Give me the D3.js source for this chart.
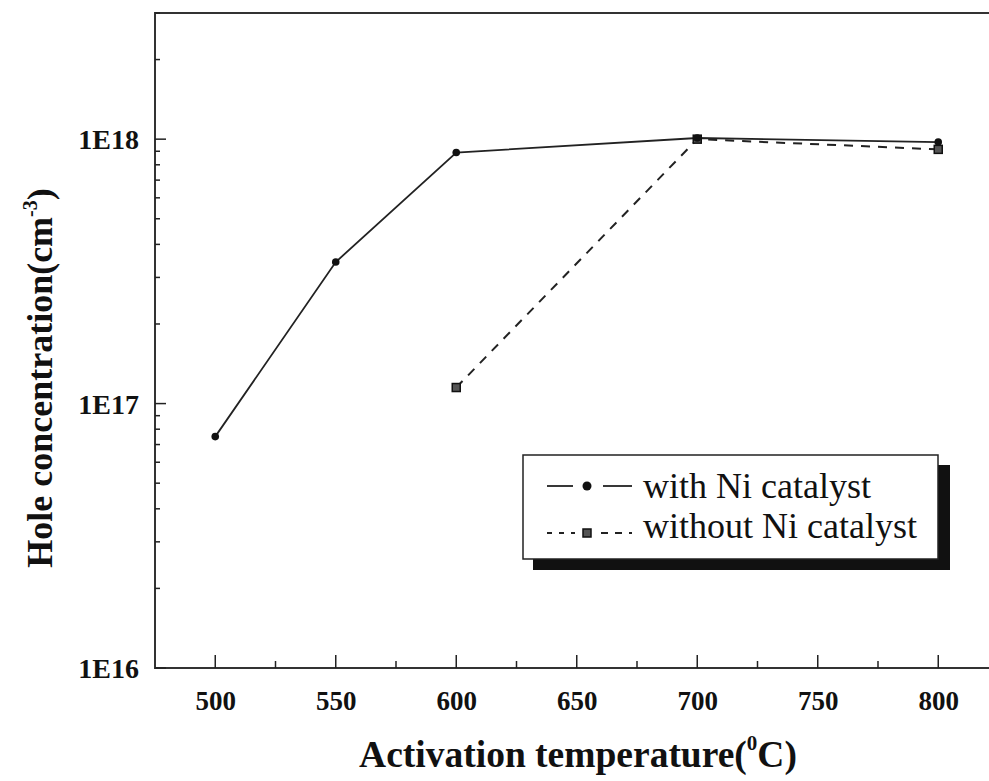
<!DOCTYPE html>
<html><head><meta charset="utf-8">
<script src="https://cdn.jsdelivr.net/npm/d3@7"></script>
<style>body{margin:0;background:#fff;} svg{display:block;}</style>
</head><body>
<svg id="c" width="989" height="781"></svg>
<script>
const temps = [500, 550, 600, 700, 800];
const withNi = [7.5e16, 3.43e17, 8.9e17, 1.01e18, 9.75e17];
const tempsNoNi = [600, 700, 800];
const withoutNi = [1.15e17, 1.0e18, 9.15e17];
const xTicks = [500, 550, 600, 650, 700, 750, 800];
const yTicks = [1e16, 1e17, 1e18];
const yTickLabels = ["1E16", "1E17", "1E18"];
const seriesNames = ["with Ni catalyst", "without Ni catalyst"];

const svg = d3.select("#c");
const font = "'Liberation Serif', 'Times New Roman', serif";
const L = 155, T = 13, B = 668, R = 998.5;
const x = d3.scaleLinear().domain([475, 825]).range([L, R]);
const y = d3.scaleLog().domain([1e16, 3e18]).range([B, T]);

// frame
svg.append("line").attr("x1", L).attr("x2", 1000).attr("y1", T).attr("y2", T).attr("stroke", "#333").attr("stroke-width", 2);

// x axis
const xAxis = d3.axisBottom(x).tickValues(xTicks).tickSize(0).tickPadding(0).tickFormat(d3.format("d"));
const gx = svg.append("g").attr("transform", `translate(0,${B})`).call(xAxis);
gx.select(".domain").remove();
gx.selectAll("text").attr("dy", "1.2em").attr("y", 10).style("font-family", font).style("font-weight", "bold").style("font-size", "27px").attr("fill", "#111");
svg.append("line").attr("x1", L).attr("x2", 1000).attr("y1", B).attr("y2", B).attr("stroke", "#333").attr("stroke-width", 2);
xTicks.forEach(v => svg.append("line").attr("x1", x(v)).attr("x2", x(v)).attr("y1", B).attr("y2", B - 13).attr("stroke", "#222").attr("stroke-width", 1.5));
const xMinor = [475, 525, 575, 625, 675, 725, 775];
xMinor.forEach(v => { if (x(v) > L + 1) svg.append("line").attr("x1", x(v)).attr("x2", x(v)).attr("y1", B).attr("y2", B - 7).attr("stroke", "#222").attr("stroke-width", 1.5); });

// y axis
const yAxis = d3.axisLeft(y).tickValues(yTicks).tickSize(0).tickPadding(0).tickFormat((d, i) => yTickLabels[i]);
const gy = svg.append("g").attr("transform", `translate(${L},0)`).call(yAxis);
gy.select(".domain").remove();
gy.selectAll("text").attr("x", -16).attr("dy", "0.35em").style("font-family", font).style("font-weight", "bold").style("font-size", "28px").attr("fill", "#111");
svg.append("line").attr("x1", L).attr("x2", L).attr("y1", T - 1).attr("y2", B + 1).attr("stroke", "#333").attr("stroke-width", 2);
yTicks.forEach(v => svg.append("line").attr("x1", L).attr("x2", L + 11).attr("y1", y(v)).attr("y2", y(v)).attr("stroke", "#222").attr("stroke-width", 1.5));
const yMinor = [];
[1e16, 1e17, 1e18].forEach(dec => { for (let k = 2; k <= 9; k++) { const v = dec * k; if (v <= 3e18) yMinor.push(v); } });
yMinor.forEach(v => svg.append("line").attr("x1", L).attr("x2", L + 5).attr("y1", y(v)).attr("y2", y(v)).attr("stroke", "#222").attr("stroke-width", 1.5));

// axis titles
const xt = svg.append("text").attr("x", 578).attr("y", 767).attr("text-anchor", "middle")
  .style("font-family", font).style("font-weight", "bold").style("font-size", "37.5px").attr("fill", "#111");
xt.append("tspan").text("Activation temperature(");
xt.append("tspan").text("0").attr("dy", -17).style("font-size", "21px");
xt.append("tspan").text("C)").attr("dy", 17);

const yt = svg.append("text").attr("transform", "translate(52,378) rotate(-90)").attr("text-anchor", "middle")
  .style("font-family", font).style("font-weight", "bold").style("font-size", "36px").attr("fill", "#111");
yt.append("tspan").text("Hole concentration(cm");
yt.append("tspan").text("-3").attr("dy", -15).style("font-size", "20px");
yt.append("tspan").text(")").attr("dy", 15);

// data lines
const line = d3.line().x(d => x(d[0])).y(d => y(d[1]));
const d1 = temps.map((t, i) => [t, withNi[i]]);
const d2 = tempsNoNi.map((t, i) => [t, withoutNi[i]]);
svg.append("path").datum(d2).attr("d", line).attr("fill", "none").attr("stroke", "#222").attr("stroke-width", 2).attr("stroke-dasharray", "9,8");
svg.append("path").datum(d1).attr("d", line).attr("fill", "none").attr("stroke", "#222").attr("stroke-width", 1.8);
svg.selectAll(".sq").data(d2).enter().append("rect").attr("x", d => x(d[0]) - 4).attr("y", d => y(d[1]) - 4).attr("width", 8).attr("height", 8)
  .attr("fill", "#555").attr("stroke", "#111").attr("stroke-width", 1.5);
svg.selectAll(".ci").data(d1).enter().append("circle").attr("cx", d => x(d[0])).attr("cy", d => y(d[1])).attr("r", 3.8).attr("fill", "#111");

// legend
const lg = svg.append("g");
lg.append("rect").attr("x", 533).attr("y", 465).attr("width", 417).attr("height", 105).attr("fill", "#111");
lg.append("rect").attr("x", 523).attr("y", 455).attr("width", 415).attr("height", 104).attr("fill", "#fff").attr("stroke", "#222").attr("stroke-width", 1.5);
lg.append("line").attr("x1", 547).attr("x2", 573).attr("y1", 486).attr("y2", 486).attr("stroke", "#222").attr("stroke-width", 1.8);
lg.append("line").attr("x1", 603).attr("x2", 632).attr("y1", 486).attr("y2", 486).attr("stroke", "#222").attr("stroke-width", 1.8);
lg.append("circle").attr("cx", 587).attr("cy", 486).attr("r", 4.5).attr("fill", "#111");
lg.append("line").attr("x1", 547).attr("x2", 575).attr("y1", 533).attr("y2", 533).attr("stroke", "#222").attr("stroke-width", 1.8).attr("stroke-dasharray", "5,7");
lg.append("line").attr("x1", 601).attr("x2", 632).attr("y1", 533).attr("y2", 533).attr("stroke", "#222").attr("stroke-width", 1.8).attr("stroke-dasharray", "7,7");
lg.append("rect").attr("x", 583).attr("y", 529).attr("width", 8).attr("height", 8).attr("fill", "#555").attr("stroke", "#111").attr("stroke-width", 1.5);
lg.selectAll(".lt").data(seriesNames).enter().append("text").attr("x", 643).attr("y", (d, i) => 498 + i * 40)
  .text(d => d).style("font-family", font).style("font-size", "36px").attr("fill", "#111");
</script>
</body></html>
